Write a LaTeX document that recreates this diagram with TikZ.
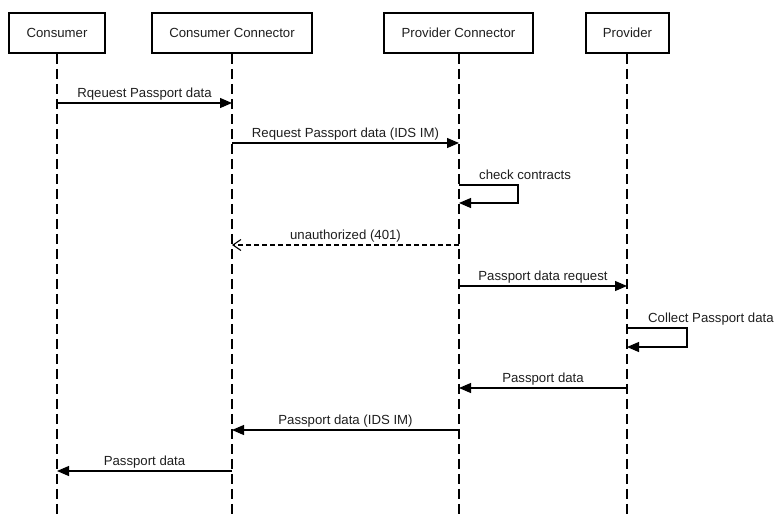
\documentclass[tikz,border=0pt]{standalone}
\usepackage{fontspec}
\setmainfont{Liberation Sans}
\usetikzlibrary{arrows.meta}
\definecolor{txt}{HTML}{1E1E1E}
\begin{document}
\begin{tikzpicture}[x=1pt,y=-1pt,
  actor/.style={draw, line width=1.7pt, minimum height=40pt, inner sep=0pt, text=txt, font=\fontsize{13.2}{15}\selectfont},
  life/.style={line width=1.1pt, dash pattern=on 10pt off 5pt},
  msg/.style={line width=1.1pt, -{Triangle[length=12pt,width=10pt]}},
  reply/.style={line width=1.1pt, dash pattern=on 5pt off 3pt, -{Straight Barb[length=8pt,width=11pt]}},
  lbl/.style={font=\fontsize{13.2}{15}\selectfont, text=txt, inner sep=0pt, anchor=base}]
\useasboundingbox (0,0) rectangle (774,517);

% actors
\node[actor, minimum width=96pt] (cons) at (57,33) {Consumer};
\node[actor, minimum width=160pt] (ccon) at (232,33) {Consumer Connector};
\node[actor, minimum width=149pt] (pcon) at (458.5,33) {Provider Connector};
\node[actor, minimum width=83pt] (prov) at (627.5,33) {Provider};

% lifeline ends
\coordinate (consE) at (57,517);
\coordinate (cconE) at (232,517);
\coordinate (pconE) at (459,517);
\coordinate (provE) at (627,517);
\draw[life] (cons.south) -- (consE);
\draw[life] (ccon.south) -- (cconE);
\draw[life] (pcon.south -| pconE) -- (pconE);
\draw[life] (prov.south -| provE) -- (provE);

% message anchor points
\coordinate (m1a) at (57,103);  \coordinate (m1b) at (232,103);
\coordinate (m2a) at (232,143); \coordinate (m2b) at (459,143);
\coordinate (m3a) at (459,185); \coordinate (m3b) at (459,203);
\coordinate (m4a) at (459,245); \coordinate (m4b) at (232,245);
\coordinate (m5a) at (459,286); \coordinate (m5b) at (627,286);
\coordinate (m6a) at (627,328); \coordinate (m6b) at (627,347);
\coordinate (m7a) at (627,388); \coordinate (m7b) at (459,388);
\coordinate (m8a) at (459,430); \coordinate (m8b) at (232,430);
\coordinate (m9a) at (232,471); \coordinate (m9b) at (57,471);

% messages
\draw[msg] (m1a) -- (m1b);
\node[lbl] (l1) at (144.5,97) {Rqeuest Passport data};

\draw[msg] (m2a) -- (m2b);
\node[lbl] (l2) at (345.5,137) {Request Passport data (IDS IM)};

\draw[msg] (m3a) -- ++(59,0) -- ++(0,18) -- (m3b);
\node[lbl, anchor=base west] (l3) at (479,179) {check contracts};

\draw[reply] (m4a) -- (m4b);
\node[lbl] (l4) at (345.5,239) {unauthorized (401)};

\draw[msg] (m5a) -- (m5b);
\node[lbl] (l5) at (543,280) {Passport data request};

\draw[msg] (m6a) -- ++(60,0) -- ++(0,19) -- (m6b);
\node[lbl, anchor=base west] (l6) at (648,322) {Collect Passport data};

\draw[msg] (m7a) -- (m7b);
\node[lbl] (l7) at (543,382) {Passport data};

\draw[msg] (m8a) -- (m8b);
\node[lbl] (l8) at (345.5,424) {Passport data (IDS IM)};

\draw[msg] (m9a) -- (m9b);
\node[lbl] (l9) at (144.5,465) {Passport data};
\end{tikzpicture}
\end{document}
